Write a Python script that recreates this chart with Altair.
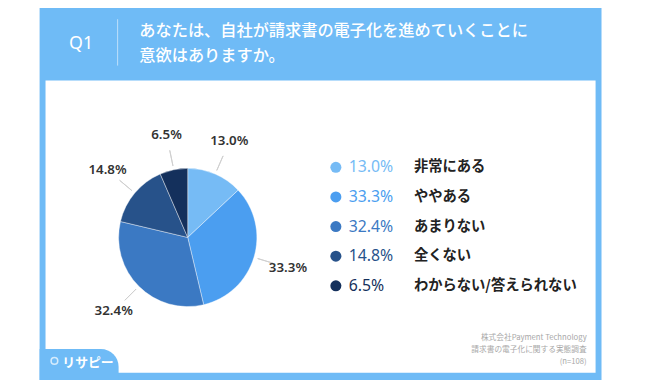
import math
import altair as alt
import pandas as pd

# ---- data ----
categories = ["非常にある", "ややある", "あまりない", "全くない", "わからない/答えられない"]
values = [13.0, 33.3, 32.4, 14.8, 6.5]
colors = ["#76bbf5", "#4b9ef0", "#3b79c3", "#27528a", "#14305c"]
question = "Q1"
title_lines = ["あなたは、自社が請求書の電子化を進めていくことに", "意欲はありますか。"]
source_lines = ["株式会社Payment Technology", "請求書の電子化に関する実態調査", "(n=108)"]
brand = "リサピー"

JP = "Noto Sans CJK JP"
NUM = "Noto Sans"
BLUE = "#6fbbf6"

df = pd.DataFrame({"category": categories, "value": values})
df["end"] = df["value"].cumsum()
df["start"] = df["end"] - df["value"]
df["mid"] = (df["start"] + df["end"]) / 2
df["mid2"] = df["mid"] + 0.02
df["label"] = df["value"].map(lambda v: f"{v:.1f}%")

theta_scale = alt.Scale(domain=[0, 100], range=[0, 2 * math.pi])
color_scale = alt.Scale(domain=categories, range=colors)
cx, cy = 182, 230

one = pd.DataFrame({"k": [0]})


def rect(x, x2, y, y2, color, **kw):
    return alt.Chart(one).mark_rect(color=color, **kw).encode(
        x=alt.value(x), x2=alt.value(x2), y=alt.value(y), y2=alt.value(y2)
    )


def text(t, x, y, **kw):
    return alt.Chart(pd.DataFrame({"t": [t]})).mark_text(**kw).encode(
        text="t:N", x=alt.value(x), y=alt.value(y)
    )


# ---- decorations ----
bg_blue = rect(32, 601, -8, 380, BLUE)
bg_white = rect(38, 595, 71, 367, "#ffffff")
tab = rect(32, 112, 343, 380, BLUE, cornerRadiusTopRight=18)
divider = alt.Chart(one).mark_rule(color="#ffffff", opacity=0.55, strokeWidth=1).encode(
    x=alt.value(111), y=alt.value(9), y2=alt.value(56)
)
q_text = text(question, 74, 34, font=NUM, fontSize=18, color="#ffffff", align="center", baseline="middle")
t1 = text(title_lines[0], 133, 21, font=JP, fontSize=16.4, fontWeight=500, color="#ffffff", align="left", baseline="middle")
t2 = text(title_lines[1], 133, 46, font=JP, fontSize=16.4, fontWeight=500, color="#ffffff", align="left", baseline="middle")
src = [
    text(s, 586, yy, font=JP, fontSize=7.8, color="#a8a8a8", align="right", baseline="middle")
    for s, yy in zip(source_lines, [332, 344, 356])
]
pin = alt.Chart(one).mark_point(shape="circle", size=45, color="#ffffff", strokeWidth=1.6, filled=False).encode(
    x=alt.value(47), y=alt.value(355)
)
brand_text = text(brand, 55, 357, font=JP, fontSize=13, fontWeight="bold", color="#ffffff", align="left", baseline="middle")

# ---- pie ----
pie = alt.Chart(df).mark_arc(radius=70, stroke="#ffffff", strokeWidth=0.4).encode(
    theta=alt.Theta("start:Q", scale=theta_scale, stack=None),
    theta2="end:Q",
    color=alt.Color("category:N", scale=color_scale, legend=None),
    x=alt.value(cx), y=alt.value(cy),
)
leaders = alt.Chart(df).mark_arc(radius=74, radius2=90, fillOpacity=0, stroke="#cfcfcf", strokeWidth=1).encode(
    theta=alt.Theta("mid:Q", scale=theta_scale, stack=None),
    theta2="mid2:Q",
    x=alt.value(cx), y=alt.value(cy),
)
labels = alt.Chart(df).mark_text(radius=106, font=NUM, fontSize=13.5, fontWeight=600, color="#333333").encode(
    theta=alt.Theta("mid:Q", scale=theta_scale, stack=None),
    text="label:N",
    x=alt.value(cx), y=alt.value(cy),
)

# ---- legend ----
y_enc = alt.Y("category:N", scale=alt.Scale(type="point", domain=categories, range=[159, 279], padding=0), axis=None)
dots = alt.Chart(df).mark_circle(size=125, opacity=1).encode(
    x=alt.value(332), y=y_enc, color=alt.Color("category:N", scale=color_scale, legend=None)
)
pct = alt.Chart(df).mark_text(align="left", baseline="middle", font=NUM, fontSize=16).encode(
    x=alt.value(345), y=y_enc, text="label:N", color=alt.Color("category:N", scale=color_scale, legend=None)
)
names = alt.Chart(df).mark_text(align="left", baseline="middle", font=JP, fontSize=14.5, fontWeight="bold", color="#222222").encode(
    x=alt.value(411), y=y_enc, text="category:N"
)

chart = alt.layer(
    bg_blue, bg_white, tab, divider, q_text, t1, t2, *src, pin, brand_text,
    pie, leaders, labels, dots, pct, names,
).properties(
    width=642, height=372, padding=0, autosize=alt.AutoSizeParams(type="none"), background="#ffffff"
).configure_view(stroke=None)

chart.save("out.html", embed_options={"renderer": "svg", "actions": False})
